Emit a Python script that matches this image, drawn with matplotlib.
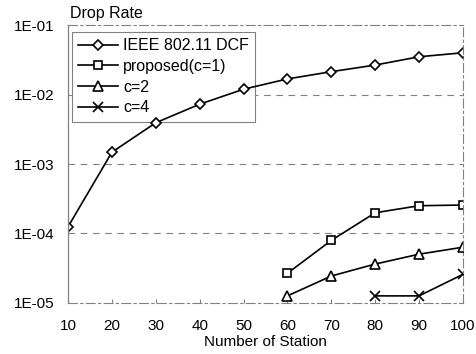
import numpy as np
import matplotlib.pyplot as plt

stations = [10, 20, 30, 40, 50, 60, 70, 80, 90, 100]
dcf = [1.24e-4, 1.48e-3, 3.94e-3, 7.3e-3, 1.2e-2, 1.69e-2, 2.15e-2, 2.68e-2, 3.53e-2, 4.03e-2]

st_prop = [60, 70, 80, 90, 100]
proposed = [2.65e-5, 7.9e-5, 1.98e-4, 2.5e-4, 2.56e-4]
c2 = [1.25e-5, 2.42e-5, 3.6e-5, 5.0e-5, 6.3e-5]

st_c4 = [80, 90, 100]
c4 = [1.25e-5, 1.25e-5, 2.56e-5]

yticks = [1e-5, 1e-4, 1e-3, 1e-2, 1e-1]
ylabels = ["1E-05", "1E-04", "1E-03", "1E-02", "1E-01"]

plt.rcParams['font.family'] = ['Liberation Sans', 'DejaVu Sans']
plt.rcParams['font.size'] = 11

fig = plt.figure(figsize=(4.77, 3.54), dpi=100)
ax = fig.add_axes([0.1426, 0.1452, 0.828, 0.783])

mk = dict(color='black', lw=1.2, markerfacecolor='white', markeredgecolor='black', markeredgewidth=1.2)
ax.plot(stations, dcf, marker='D', markersize=5.5, label='IEEE 802.11 DCF', **mk)
ax.plot(st_prop, proposed, marker='s', markersize=6, label='proposed(c=1)', **mk)
ax.plot(st_prop, c2, marker='^', markersize=7, label='c=2', **mk)
ax.plot(st_c4, c4, marker='x', markersize=7, label='c=4', **mk)

ax.set_yscale('log')
ax.set_xlim(10, 100)
ax.set_ylim(1e-5, 1e-1)
ax.set_xticks(stations)
ax.set_yticks(yticks)
ax.set_yticklabels(ylabels)
ax.minorticks_off()
ax.tick_params(axis='x', direction='in', length=3, color='gray', pad=12, labelsize=11)
ax.tick_params(axis='y', length=0, pad=10, labelsize=11)

for y in [1e-4, 1e-3, 1e-2]:
    ax.axhline(y, color='gray', lw=0.8, ls=(0, (6, 5)), zorder=0)

for s in ['top', 'right', 'bottom']:
    ax.spines[s].set_color('gray')
    ax.spines[s].set_linestyle((0, (8, 3, 2, 3)))
    ax.spines[s].set_linewidth(0.8)
ax.spines['left'].set_color('gray')
ax.spines['left'].set_linewidth(0.9)

ax.set_xlabel('Number of Station', fontsize=11, labelpad=1)
fig.text(0.147, 0.962, 'Drop Rate', fontsize=11.5, va='center')

leg = ax.legend(loc='upper left', bbox_to_anchor=(0.01, 0.976), fontsize=11.5,
                frameon=True, fancybox=False, edgecolor='gray', facecolor='white',
                framealpha=1, handlelength=2.5, borderpad=0.4, borderaxespad=0,
                labelspacing=0.35, handletextpad=0.3)
leg.get_frame().set_linewidth(0.8)
leg.set_zorder(1)

fig.savefig('out.png', dpi=100)
